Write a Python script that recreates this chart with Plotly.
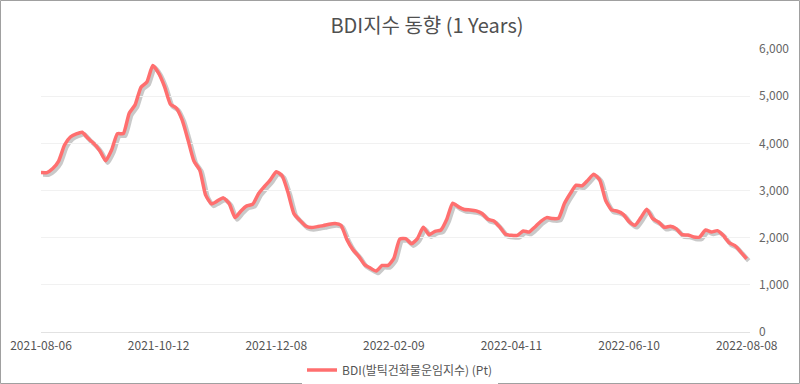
import plotly.graph_objects as go

# Trading-day index (equally spaced categories) and BDI values
bdi_values = [
    3380, 3380, 3465, 3624, 3964, 4135, 4200, 4235, 4106, 3993,
    3844, 3631, 3858, 4205, 4205, 4638, 4815, 5191, 5298, 5650,
    5490, 5205, 4830, 4745, 4496, 4071, 3624, 3433, 2901, 2716,
    2780, 2844, 2723, 2425, 2567, 2674, 2709, 2936, 3085, 3227,
    3400, 3312, 2957, 2511, 2369, 2248, 2213, 2234, 2255, 2284,
    2298, 2262, 1964, 1752, 1610, 1433, 1355, 1291, 1411, 1411,
    1560, 1971, 1979, 1872, 1979, 2220, 2064, 2135, 2163, 2390,
    2730, 2652, 2596, 2589, 2567, 2511, 2390, 2355, 2227, 2071,
    2050, 2050, 2142, 2121, 2227, 2347, 2425, 2404, 2411, 2723,
    2936, 3113, 3099, 3220, 3347, 3227, 2794, 2589, 2560, 2496,
    2340, 2262, 2425, 2603, 2404, 2333, 2220, 2241, 2191, 2064,
    2057, 2014, 2014, 2163, 2121, 2149, 2050, 1894, 1830, 1695,
    1553,
]
day_index = list(range(len(bdi_values)))

tick_positions = [0, 20, 40, 60, 80, 100, 120]
tick_labels = ["2021-08-06", "2021-10-12", "2021-12-08", "2022-02-09",
               "2022-04-11", "2022-06-10", "2022-08-08"]
y_ticks = [0, 1000, 2000, 3000, 4000, 5000, 6000]
y_tick_labels = ["0", "1,000", "2,000", "3,000", "4,000", "5,000", "6,000"]

series_name = "BDI(발틱건화물운임지수) (Pt)"
title_text = "BDI지수 동향 (1 Years)"

FONT = "Noto Sans CJK KR"
W, H = 800, 384
L, R, T, B = 41, 48, 49, 50
PW = W - L - R
PH = H - T - B
dx = 2 / PW
dy = 2 / PH
x_range = [0, 120.56]

fig = go.Figure()
# soft drop shadow (same data on slightly offset axes), drawn first
fig.add_trace(go.Scatter(
    x=day_index, y=bdi_values, mode="lines",
    line=dict(color="rgba(60,60,60,0.28)", width=4.5, shape="spline", smoothing=0.5),
    xaxis="x", yaxis="y", showlegend=False, hoverinfo="skip",
))
fig.add_trace(go.Scatter(
    x=day_index, y=bdi_values, mode="lines", name=series_name,
    line=dict(color="#ff6f6f", width=3.5, shape="spline", smoothing=0.5),
    xaxis="x2", yaxis="y2",
))

fig.update_layout(
    width=W, height=H,
    margin=dict(l=L, r=R, t=T, b=B, autoexpand=False),
    paper_bgcolor="white", plot_bgcolor="rgba(0,0,0,0)",
    font=dict(family=FONT, color="#555"),
    title=dict(text=title_text, x=427 / W, xref="container", xanchor="center",
               y=1 - 26 / H, yref="container", yanchor="middle",
               font=dict(family=FONT, size=20, color="#505050")),
    showlegend=True,
    legend=dict(orientation="h", x=0.5, xanchor="center", xref="container",
                y=1 - 370 / H, yref="container", yanchor="middle",
                font=dict(family=FONT, size=12, color="#555")),
    # shadow axes (hidden), shifted right/down by 2px
    xaxis=dict(domain=[dx, 1], range=x_range, visible=False, anchor="y"),
    yaxis=dict(domain=[0, 1 - dy], range=[0, 6000], visible=False, anchor="x"),
    # main visible axes
    xaxis2=dict(domain=[0, 1 - dx], range=x_range, anchor="y2", tickmode="array",
                tickvals=tick_positions, ticktext=tick_labels,
                showgrid=False, zeroline=False, showline=True, linecolor="#e2e2e2",
                ticks="", automargin=False, ticklabelstandoff=3,
                tickfont=dict(family=FONT, size=12, color="#555")),
    yaxis2=dict(domain=[dy, 1], range=[0, 6000], anchor="x2", side="right",
                tickmode="array", tickvals=y_ticks, ticktext=y_tick_labels,
                showgrid=True, gridcolor="#f1f1f1", gridwidth=1, zeroline=False,
                ticks="", ticklabelstandoff=8, automargin=False,
                tickfont=dict(family=FONT, size=12, color="#666")),
    shapes=[dict(type="rect", xref="paper", yref="paper",
                 x0=(0.5 - L) / PW, x1=(W - 0.5 - L) / PW,
                 y0=1 - (H - 0.5 - T) / PH, y1=1 + (T - 0.5) / PH,
                 line=dict(color="#a0a0a0", width=1), fillcolor="rgba(0,0,0,0)",
                 layer="above")],
)

fig.write_html("out.html",
               config={"displayModeBar": False},
               post_script="document.body.style.margin='0';document.body.style.overflow='hidden';")
